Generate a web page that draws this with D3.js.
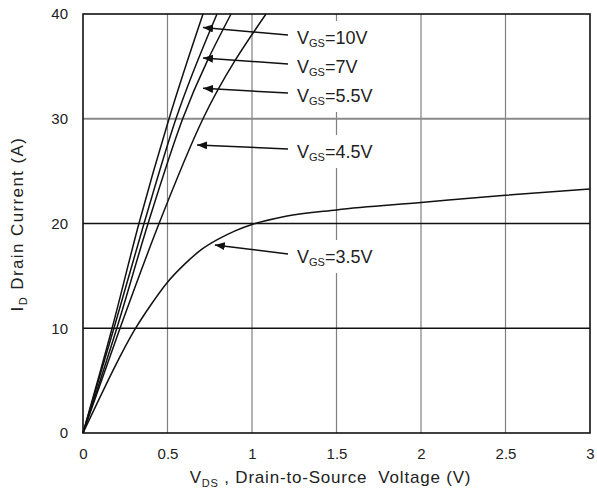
<!DOCTYPE html>
<meta charset="utf-8">
<style>
  body { margin: 0; background: #fff; }
  svg { font-family: "Liberation Sans", Arial, sans-serif; }
  .tick text { font-size: 15px; fill: #222; }
  .lbl { font-size: 18px; fill: #222; }
  .title { white-space: pre; }
</style>
<svg width="597" height="495"></svg>
<script src="https://d3js.org/d3.v7.min.js"></script>
<script>

  // axis ticks
  var vdsTicks = [0, 0.5, 1, 1.5, 2, 2.5, 3];
  var idTicks = [0, 10, 20, 30, 40];

  // curves, [VDS, ID]
  var vgs10 = [[0, 0], [0.172, 10], [0.331, 20], [0.509, 30], [0.71, 40]];
  var vgs7 = [[0, 0], [0.183, 10], [0.361, 20], [0.55, 30], [0.793, 40]];
  var vgs55 = [[0, 0], [0.2, 10], [0.385, 20], [0.59, 30], [0.876, 40]];
  var vgs45 = [[0, 0], [0.219, 10], [0.45, 20], [0.71, 30], [1.083, 40]];
  var vgs35 = [[0, 0], [0.1, 3.4], [0.2, 6.7], [0.3, 9.7], [0.4, 12.2], [0.5, 14.4],
    [0.6, 16.1], [0.7, 17.5], [0.8, 18.5], [0.9, 19.3], [1.0, 19.9], [1.2, 20.7],
    [1.5, 21.3], [2.0, 22.0], [2.5, 22.7], [3.0, 23.3]];

  var series = [vgs10, vgs7, vgs55, vgs45, vgs35];
  var seriesNames = ["10V", "7V", "5.5V", "4.5V", "3.5V"];

  var margin = {top: 14, right: 7, bottom: 62, left: 83},
    width = 597 - margin.left - margin.right,
    height = 495 - margin.top - margin.bottom;

  var svg = d3.select("svg");
  var g = svg.append("g").attr("transform", "translate(" + margin.left + "," + margin.top + ")");

  var x = d3.scaleLinear().domain([0, 3]).range([0, width]);
  var y = d3.scaleLinear().domain([0, 40]).range([height, 0]);

  // grid
  g.selectAll(".vgrid")
    .data(vdsTicks.slice(1, -1))
    .enter().append("line")
      .attr("x1", d => x(d)).attr("x2", d => x(d))
      .attr("y1", 0).attr("y2", height)
      .attr("stroke", "#808080").attr("stroke-width", 1.2);

  g.selectAll(".hgrid")
    .data(idTicks.slice(1, -1))
    .enter().append("line")
      .attr("x1", 0).attr("x2", width)
      .attr("y1", d => y(d)).attr("y2", d => y(d))
      .attr("stroke", d => d == 30 ? "#8a8a8a" : "#111")
      .attr("stroke-width", d => d == 30 ? 2 : 1.4);

  // frame
  g.append("rect")
    .attr("width", width).attr("height", height)
    .attr("fill", "none").attr("stroke", "#111").attr("stroke-width", 1.6);

  // axes
  var xAxis = g.append("g").attr("transform", "translate(0," + height + ")")
    .call(d3.axisBottom(x).tickValues(vdsTicks).tickSize(0).tickPadding(15).tickFormat(d3.format("~g")));
  var yAxis = g.append("g")
    .call(d3.axisLeft(y).tickValues(idTicks).tickSize(0).tickPadding(15));
  xAxis.select(".domain").remove();
  yAxis.select(".domain").remove();
  g.selectAll(".tick text").attr("font-family", null).attr("font-size", null);

  // curves
  var line = d3.line()
    .x(d => x(d[0]))
    .y(d => y(d[1]))
    .curve(d3.curveMonotoneX);

  g.selectAll(".curve")
    .data(series)
    .enter().append("path")
      .attr("d", line)
      .attr("fill", "none")
      .attr("stroke", "#111")
      .attr("stroke-width", 1.5);

  // annotations: arrow tip on curve [VDS, ID], text baseline in px
  var tips = [[0.71, 38.7], [0.71, 35.8], [0.71, 32.9], [0.675, 27.5], [0.78, 17.95]];
  var textY = [44, 73, 102, 158, 263];

  svg.append("defs").append("marker")
    .attr("id", "head")
    .attr("markerUnits", "userSpaceOnUse")
    .attr("markerWidth", 12).attr("markerHeight", 10)
    .attr("refX", 10).attr("refY", 4)
    .attr("orient", "auto")
    .append("path").attr("d", "M0,0L10,4L0,8Z").attr("fill", "#111");

  var ann = g.selectAll(".ann")
    .data(seriesNames)
    .enter().append("g");

  ann.append("rect").attr("class", "bg").attr("fill", "#fff");

  ann.append("line")
    .attr("x1", (d, i) => 288 - margin.left)
    .attr("y1", (d, i) => textY[i] - 9 - margin.top)
    .attr("x2", (d, i) => x(tips[i][0]))
    .attr("y2", (d, i) => y(tips[i][1]))
    .attr("stroke", "#111").attr("stroke-width", 1.5)
    .attr("marker-end", "url(#head)");

  var txt = ann.append("text")
    .attr("class", "lbl")
    .attr("x", 297 - margin.left)
    .attr("y", (d, i) => textY[i] - margin.top);
  txt.append("tspan").text("V");
  txt.append("tspan").attr("font-size", 11).attr("dy", 3).text("GS");
  txt.append("tspan").attr("dy", -3).text(d => "=" + d);

  ann.each(function(d, i) {
    var b = d3.select(this).select("text").node().getBBox();
    d3.select(this).select("rect.bg")
      .attr("x", b.x - 4).attr("width", b.width + 8)
      .attr("y", textY[i] - margin.top - 23).attr("height", 33);
  });

  // axis titles
  var xt = svg.append("text")
    .attr("class", "title")
    .attr("x", margin.left + width / 2 - 6)
    .attr("y", 483)
    .attr("text-anchor", "middle")
    .attr("font-size", 17)
    .attr("letter-spacing", 0.8)
    .attr("fill", "#222");
  xt.append("tspan").text("V");
  xt.append("tspan").attr("font-size", 11).attr("dy", 4).text("DS");
  xt.append("tspan").attr("dy", -4).text(" , Drain-to-Source  Voltage (V)");

  var yt = svg.append("text")
    .attr("class", "title")
    .attr("transform", "translate(23," + 224 + ") rotate(-90)")
    .attr("text-anchor", "middle")
    .attr("font-size", 17)
    .attr("letter-spacing", 1.4)
    .attr("fill", "#222");
  yt.append("tspan").text("I");
  yt.append("tspan").attr("font-size", 11).attr("dy", 4).text("D");
  yt.append("tspan").attr("dy", -4).text(" Drain Current (A)");

</script>
